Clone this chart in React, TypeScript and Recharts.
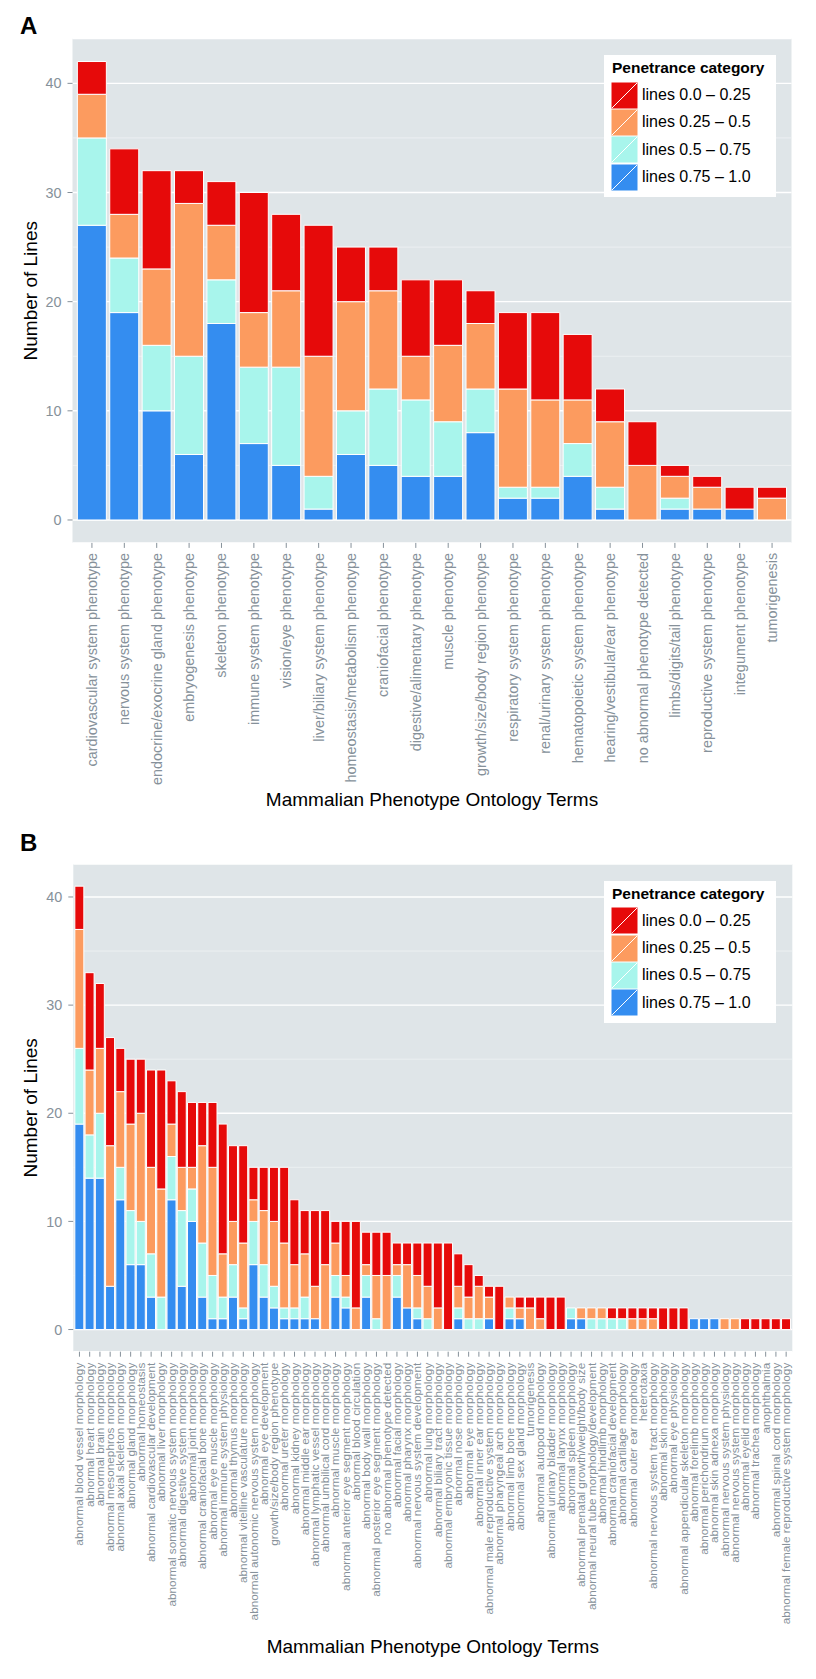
import { BarChart, Bar, XAxis, YAxis, CartesianGrid, Legend, Label } from 'recharts'

const FONT = '"Liberation Sans", Arial, Helvetica, sans-serif'
const PANEL_BG = '#DFE5E8'
const TICK_GREY = '#86919A'

const SERIES = [
  { key: 'low', label: 'lines 0.0 – 0.25', color: '#E60A0A' },
  { key: 'midLow', label: 'lines 0.25 – 0.5', color: '#FC9B5F' },
  { key: 'midHigh', label: 'lines 0.5 – 0.75', color: '#A8F5EC' },
  { key: 'high', label: 'lines 0.75 – 1.0', color: '#348DF0' },
]

const yTicks = [0, 10, 20, 30, 40]
const yMinorTicks = [5, 15, 25, 35]

// Panel A: top-level MP terms
const termsA = [
  'cardiovascular system phenotype', 'nervous system phenotype', 'endocrine/exocrine gland phenotype',
  'embryogenesis phenotype', 'skeleton phenotype', 'immune system phenotype', 'vision/eye phenotype',
  'liver/biliary system phenotype', 'homeostasis/metabolism phenotype', 'craniofacial phenotype',
  'digestive/alimentary phenotype', 'muscle phenotype', 'growth/size/body region phenotype',
  'respiratory system phenotype', 'renal/urinary system phenotype', 'hematopoietic system phenotype',
  'hearing/vestibular/ear phenotype', 'no abnormal phenotype detected', 'limbs/digits/tail phenotype',
  'reproductive system phenotype', 'integument phenotype', 'tumorigenesis',
]
const highA = [27, 19, 10, 6, 18, 7, 5, 1, 6, 5, 4, 4, 8, 2, 2, 4, 1, 0, 1, 1, 1, 0]
const midHighA = [8, 5, 6, 9, 4, 7, 9, 3, 4, 7, 7, 5, 4, 1, 1, 3, 2, 0, 1, 0, 0, 0]
const midLowA = [4, 4, 7, 14, 5, 5, 7, 11, 10, 9, 4, 7, 6, 9, 8, 4, 6, 5, 2, 2, 0, 2]
const lowA = [3, 6, 9, 3, 4, 11, 7, 12, 5, 4, 7, 6, 3, 7, 8, 6, 3, 4, 1, 1, 2, 1]

// Panel B: second-level MP terms
const termsB = [
  'abnormal blood vessel morphology', 'abnormal heart morphology', 'abnormal brain morphology',
  'abnormal mesonephros morphology', 'abnormal axial skeleton morphology', 'abnormal gland morphology',
  'abnormal homeostasis', 'abnormal cardiovascular development', 'abnormal liver morphology',
  'abnormal somatic nervous system morphology', 'abnormal digestive system morphology',
  'abnormal joint morphology', 'abnormal craniofacial bone morphology', 'abnormal eye muscle morphology',
  'abnormal immune system physiology', 'abnormal thymus morphology',
  'abnormal vitelline vasculature morphology', 'abnormal autonomic nervous system morphology',
  'abnormal eye development', 'growth/size/body region phenotype', 'abnormal ureter morphology',
  'abnormal kidney morphology', 'abnormal middle ear morphology', 'abnormal lymphatic vessel morphology',
  'abnormal umbilical cord morphology', 'abnormal muscle morphology',
  'abnormal anterior eye segment morphology', 'abnormal blood circulation', 'abnormal body wall morphology',
  'abnormal posterior eye segment morphology', 'no abnormal phenotype detected',
  'abnormal facial morphology', 'abnormal pharynx morphology', 'abnormal nervous system development',
  'abnormal lung morphology', 'abnormal biliary tract morphology', 'abnormal embryonic tissue morphology',
  'abnormal nose morphology', 'abnormal eye morphology', 'abnormal inner ear morphology',
  'abnormal male reproductive system morphology', 'abnormal pharyngeal arch morphology',
  'abnormal limb bone morphology', 'abnormal sex gland morphology', 'tumorigenesis',
  'abnormal autopod morphology', 'abnormal urinary bladder morphology', 'abnormal larynx morphology',
  'abnormal spleen morphology', 'abnormal prenatal growth/weight/body size',
  'abnormal neural tube morphology/development', 'abnormal hindlimb morphology',
  'abnormal craniofacial development', 'abnormal cartilage morphology', 'abnormal outer ear morphology',
  'heterotaxia', 'abnormal nervous system tract morphology', 'abnormal skin morphology',
  'abnormal eye physiology', 'abnormal appendicular skeleton morphology', 'abnormal forelimb morphology',
  'abnormal perichondrium morphology', 'abnormal skin adnexa morphology',
  'abnormal nervous system physiology', 'abnormal nervous system morphology', 'abnormal eyelid morphology',
  'abnormal trachea morphology', 'anophthalmia', 'abnormal spinal cord morphology',
  'abnormal female reproductive system morphology',
]
const highB = [
  19, 14, 14, 4, 12, 6, 6, 3, 0, 12, 4, 10, 3, 1, 1, 3, 1, 6, 3, 2, 1, 1, 1, 1, 0, 3, 2, 0, 3, 0, 0, 3, 2, 1, 0,
  0, 0, 1, 0, 0, 1, 0, 1, 1, 0, 0, 0, 0, 1, 1, 0, 0, 0, 0, 0, 0, 0, 0, 0, 0, 1, 1, 1, 0, 0, 0, 0, 0, 0, 0,
]
const midHighB = [
  7, 4, 6, 0, 3, 5, 4, 4, 3, 4, 7, 3, 5, 4, 2, 3, 1, 4, 3, 2, 1, 1, 2, 0, 0, 2, 1, 0, 2, 1, 0, 2, 0, 1, 1,
  0, 0, 1, 1, 1, 0, 0, 1, 0, 0, 0, 0, 0, 1, 0, 1, 1, 1, 1, 0, 0, 0, 0, 0, 0, 0, 0, 0, 0, 0, 0, 0, 0, 0, 0,
]
const midLowB = [
  11, 6, 6, 13, 7, 8, 10, 8, 10, 3, 4, 2, 9, 10, 4, 4, 6, 2, 5, 6, 6, 4, 4, 3, 6, 3, 2, 2, 1, 4, 5, 1, 4, 3, 3,
  2, 0, 2, 2, 3, 2, 0, 1, 1, 2, 1, 0, 0, 0, 1, 1, 1, 0, 0, 1, 1, 1, 0, 0, 0, 0, 0, 0, 1, 1, 0, 0, 0, 0, 0,
]
const lowB = [
  4, 9, 6, 10, 4, 6, 5, 9, 11, 4, 7, 6, 4, 6, 12, 7, 9, 3, 4, 5, 7, 6, 4, 7, 5, 2, 5, 8, 3, 4, 4, 2, 2, 3, 4,
  6, 8, 3, 3, 1, 1, 4, 0, 1, 1, 2, 3, 3, 0, 0, 0, 0, 1, 1, 1, 1, 1, 2, 2, 2, 0, 0, 0, 0, 0, 1, 1, 1, 1, 1,
]

type Row = { term: string; high: number; midHigh: number; midLow: number; low: number }

function buildRows(terms: string[], high: number[], midHigh: number[], midLow: number[], low: number[]): Row[] {
  return terms.map((term, i) => ({ term, high: high[i], midHigh: midHigh[i], midLow: midLow[i], low: low[i] }))
}

const rowsA = buildRows(termsA, highA, midHighA, midLowA, lowA)
const rowsB = buildRows(termsB, highB, midHighB, midLowB, lowB)

// minor grid positions, via the axis scale when available
function minorLines(domain: number[]) {
  return (p: any) => {
    const s = p?.yAxis?.scale
    return yMinorTicks.map((v) => {
      if (typeof s === 'function') return s(v)
      if (s && typeof s.map === 'function') return s.map(v)
      const o = p.offset
      return o.top + (o.height * (domain[1] - v)) / (domain[1] - domain[0])
    })
  }
}

function RotatedTick(props: any) {
  const { x, y, payload, fontSize } = props
  return (
    <text
      x={x}
      y={y}
      transform={`rotate(-90, ${x}, ${y})`}
      textAnchor="end"
      dominantBaseline="central"
      fontSize={fontSize}
      fontFamily={FONT}
      fill={TICK_GREY}
    >
      {payload.value}
    </text>
  )
}

function PenetranceLegend() {
  return (
    <div style={{ background: '#fff', width: 172, height: 142, boxSizing: 'border-box', padding: '0 0 0 7px', fontFamily: FONT }}>
      <div style={{ height: 26, lineHeight: '26px', fontWeight: 'bold', fontSize: 15.5, color: '#000', paddingLeft: 1 }}>
        Penetrance category
      </div>
      {SERIES.map((s) => (
        <div key={s.key} style={{ display: 'flex', alignItems: 'center', height: 27.4 }}>
          <svg width={27} height={27} style={{ display: 'block' }}>
            <rect x={0} y={0} width={27} height={27} fill={s.color} stroke="#fff" strokeWidth={1} />
            <line x1={1} y1={26} x2={26} y2={1} stroke="#fff" strokeWidth={1} />
          </svg>
          <span style={{ marginLeft: 4, fontSize: 16, color: '#000' }}>{s.label}</span>
        </div>
      ))}
    </div>
  )
}

interface PanelProps {
  rows: Row[]
  top: number
  height: number
  plotLeft: number
  plotRight: number
  plotTop: number
  plotBottom: number
  tickFont: number
  tickMargin: number
  titleGap: number
  legendTop: number
}

function PhenotypePanel({ rows, top, height, plotLeft, plotRight, plotTop, plotBottom, tickFont, tickMargin, titleGap, legendTop }: PanelProps) {
  const n = rows.length
  const pad = ((plotRight - plotLeft) / (n + 0.2)) * 0.1
  const maxTotal = Math.max(...rows.map((r) => r.high + r.midHigh + r.midLow + r.low))
  const domain = [-maxTotal * 0.05, maxTotal * 1.05]

  return (
    <div style={{ position: 'absolute', left: 0, top, width: 816, height }}>
      <BarChart
        width={816}
        height={height}
        data={rows}
        margin={{ top: plotTop, right: 816 - plotRight, bottom: 0, left: 0 }}
        barCategoryGap="5%"
      >
        <CartesianGrid
          vertical={false}
          fill={PANEL_BG}
          stroke="#F2F5F6"
          strokeWidth={0.7}
          horizontalCoordinatesGenerator={minorLines(domain)}
        />
        <CartesianGrid vertical={false} stroke="#FFFFFF" strokeWidth={1.4} />
        <XAxis
          dataKey="term"
          interval={0}
          height={height - plotBottom}
          padding={{ left: pad, right: pad }}
          axisLine={false}
          tickSize={5}
          tickMargin={tickMargin}
          tickLine={{ stroke: TICK_GREY }}
          tick={(p: any) => <RotatedTick {...p} fontSize={tickFont} />}
        >
          <Label
            value="Mammalian Phenotype Ontology Terms"
            content={(p: any) => {
              const vb = p.viewBox
              return (
                <text
                  x={vb.x + vb.width / 2}
                  y={vb.y + titleGap}
                  textAnchor="middle"
                  dominantBaseline="central"
                  fontSize={19}
                  fontFamily={FONT}
                  fill="#000"
                >
                  Mammalian Phenotype Ontology Terms
                </text>
              )
            }}
          />
        </XAxis>
        <YAxis
          type="number"
          domain={domain}
          ticks={yTicks}
          allowDataOverflow
          width={plotLeft}
          axisLine={false}
          tickSize={5}
          tickMargin={6}
          tickLine={{ stroke: TICK_GREY }}
          tick={{ fill: TICK_GREY, fontSize: 14.4, fontFamily: FONT }}
        >
          <Label
            value="Number of Lines"
            content={(p: any) => {
              const vb = p.viewBox
              const cy = vb.y + vb.height / 2
              return (
                <text
                  x={30.5}
                  y={cy}
                  transform={`rotate(-90, 30.5, ${cy})`}
                  textAnchor="middle"
                  dominantBaseline="central"
                  fontSize={19}
                  fontFamily={FONT}
                  fill="#000"
                >
                  Number of Lines
                </text>
              )
            }}
          />
        </YAxis>
        <Legend
          layout="vertical"
          align="center"
          verticalAlign="middle"
          wrapperStyle={{ left: 604, top: legendTop, width: 172 }}
          content={() => <PenetranceLegend />}
        />
        <Bar dataKey="high" name={SERIES[3].label} stackId="p" fill={SERIES[3].color} stroke="#fff" strokeWidth={1} isAnimationActive={false} />
        <Bar dataKey="midHigh" name={SERIES[2].label} stackId="p" fill={SERIES[2].color} stroke="#fff" strokeWidth={1} isAnimationActive={false} />
        <Bar dataKey="midLow" name={SERIES[1].label} stackId="p" fill={SERIES[1].color} stroke="#fff" strokeWidth={1} isAnimationActive={false} />
        <Bar dataKey="low" name={SERIES[0].label} stackId="p" fill={SERIES[0].color} stroke="#fff" strokeWidth={1} isAnimationActive={false} />
      </BarChart>
    </div>
  )
}

export default function App() {
  return (
    <div style={{ position: 'relative', width: 816, height: 1679, background: '#fff', fontFamily: FONT }}>
      <style>{'body { margin: 0; }'}</style>
      <PhenotypePanel
        rows={rowsA}
        top={0}
        height={830}
        plotLeft={72.5}
        plotRight={791.5}
        plotTop={38.6}
        plotBottom={542.9}
        tickFont={14.4}
        tickMargin={5}
        titleGap={257}
        legendTop={55.4}
      />
      <PhenotypePanel
        rows={rowsB}
        top={830}
        height={849}
        plotLeft={73.3}
        plotRight={792.3}
        plotTop={34}
        plotBottom={521.7}
        tickFont={11.8}
        tickMargin={6}
        titleGap={295}
        legendTop={51}
      />
      <svg width={816} height={1679} style={{ position: 'absolute', left: 0, top: 0, pointerEvents: 'none' }}>
        <text x={20} y={34} fontSize={24} fontWeight="bold" fontFamily={FONT} fill="#000">A</text>
        <text x={20} y={851} fontSize={24} fontWeight="bold" fontFamily={FONT} fill="#000">B</text>
      </svg>
    </div>
  )
}
